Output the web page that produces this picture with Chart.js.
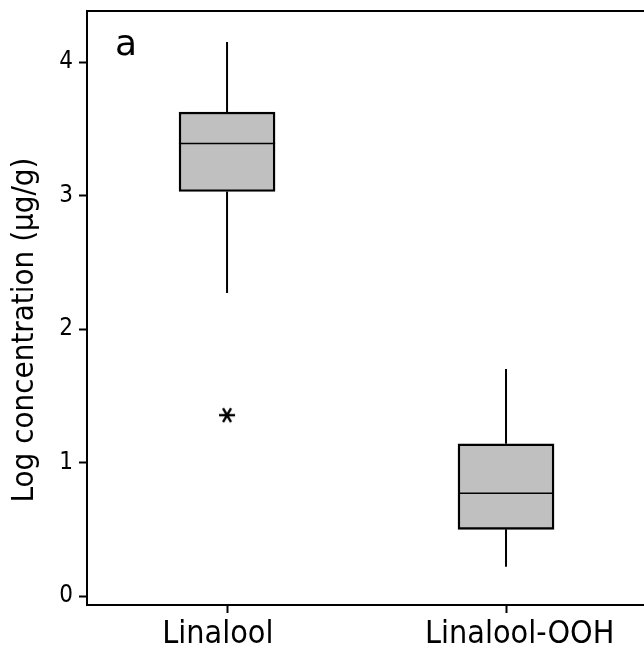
<!DOCTYPE html>
<html><head><meta charset="utf-8">
<script src="https://cdn.jsdelivr.net/npm/chart.js@4/dist/chart.umd.min.js"></script>
<style>html,body{margin:0;padding:0;background:#fff;overflow:hidden}</style>
</head><body>
<canvas id="c" width="644" height="647" style="display:block;width:644px;height:647px"></canvas>
<script>
// ---- data ----
const categories = ['Linalool', 'Linalool-OOH'];
const whiskerLow = [2.27, 0.22];
const q1 = [3.03, 0.50];
const median = [3.39, 0.77];
const q3 = [3.625, 1.14];
const whiskerHigh = [4.15, 1.70];
const outlierCategory = [1];      // 1-based category position
const outlierValues = [1.355];
const yTicks = [0, 1, 2, 3, 4];
const panelLabel = 'a';
const yTitle = 'Log concentration (μg/g)';

const FONT = "'DejaVu Sans Condensed', 'DejaVu Sans', sans-serif";

// asterisk marker
const star = document.createElement('canvas');
star.width = 20; star.height = 20;
(function () {
  const g = star.getContext('2d');
  g.strokeStyle = '#000'; g.lineWidth = 2.4; g.lineCap = 'butt';
  g.translate(10, 10);
  [0, 60, 120].forEach(a => {
    const r = a * Math.PI / 180;
    g.beginPath();
    g.moveTo(-8 * Math.cos(r), -8 * Math.sin(r));
    g.lineTo(8 * Math.cos(r), 8 * Math.sin(r));
    g.stroke();
  });
})();

const pos = categories.map((c, i) => i + 1);

function whiskerData(from, to) {
  const out = [];
  pos.forEach((p, i) => {
    out.push({ x: p, y: from[i] }, { x: p, y: to[i] }, { x: p, y: null });
  });
  return out;
}

const decor = {
  id: 'decor',
  afterDraw(chart) {
    const { ctx, chartArea: a } = chart;
    ctx.save();
    ctx.strokeStyle = '#000';
    ctx.lineWidth = 2;
    ctx.beginPath();
    ctx.moveTo(a.left - 1, a.top);
    ctx.lineTo(a.right, a.top);
    ctx.stroke();
    ctx.fillStyle = '#000';
    ctx.font = "36px 'DejaVu Sans', sans-serif";
    ctx.textAlign = 'left';
    ctx.textBaseline = 'alphabetic';
    ctx.fillText(panelLabel, a.left + 28, a.top + 44);
    ctx.translate(25, (a.top + a.bottom) / 2 + 22);
    ctx.rotate(-Math.PI / 2);
    ctx.font = '31px ' + FONT;
    ctx.textAlign = 'center';
    ctx.textBaseline = 'middle';
    ctx.fillText(yTitle, 0, 0);
    ctx.restore();
  }
};

const gridCommon = { drawOnChartArea: false, drawTicks: true, tickLength: 8, tickColor: '#000', tickWidth: 2, offset: false };
const borderCommon = { display: true, color: '#000', width: 2 };
const boxBorder = 2.4;

new Chart(document.getElementById('c'), {
  data: {
    datasets: [
      {
        type: 'bar', label: 'upper box',
        data: pos.map((p, i) => ({ x: p, y: [median[i], q3[i]] })),
        backgroundColor: '#c0c0c0', borderColor: '#000',
        borderWidth: { top: boxBorder, bottom: 1.1, left: boxBorder, right: boxBorder },
        borderSkipped: false, barThickness: 96, grouped: false
      },
      {
        type: 'bar', label: 'lower box',
        data: pos.map((p, i) => ({ x: p, y: [q1[i], median[i]] })),
        backgroundColor: '#c0c0c0', borderColor: '#000',
        borderWidth: { top: 1.1, bottom: boxBorder, left: boxBorder, right: boxBorder },
        borderSkipped: false, barThickness: 96, grouped: false
      },
      {
        type: 'line', label: 'upper whisker',
        data: whiskerData(q3, whiskerHigh),
        borderColor: '#000', borderWidth: 2, pointRadius: 0, spanGaps: false, fill: false
      },
      {
        type: 'line', label: 'lower whisker',
        data: whiskerData(q1, whiskerLow),
        borderColor: '#000', borderWidth: 2, pointRadius: 0, spanGaps: false, fill: false
      },
      {
        type: 'scatter', label: 'outliers',
        data: outlierValues.map((v, i) => ({ x: outlierCategory[i], y: v })),
        pointStyle: star, pointRadius: 8, showLine: false
      }
    ]
  },
  options: {
    responsive: false,
    animation: false,
    devicePixelRatio: 1,
    layout: { autoPadding: false, padding: { top: 11, right: 0, left: 0, bottom: 0 } },
    plugins: { legend: { display: false }, tooltip: { enabled: false } },
    scales: {
      x: {
        type: 'linear', min: 0.498, max: 2.4946, offset: false,
        afterBuildTicks: s => { s.ticks = pos.map(p => ({ value: p })); },
        afterFit: s => { s.height = 42; s.paddingLeft = 0; s.paddingRight = 0; },
        ticks: { color: '#000', font: { family: FONT, size: 32 }, padding: 2,
                 // the reference sets the first label slightly left and the second slightly right of its tick
                 callback: (v, i) => i === 0 ? categories[i] + '\u00a0\u00a0' : '\u00a0\u00a0\u00a0' + categories[i] },
        grid: gridCommon, border: borderCommon
      },
      y: {
        type: 'linear', min: -0.067, max: 4.382,
        afterBuildTicks: s => { s.ticks = yTicks.map(v => ({ value: v })); },
        afterFit: s => { s.width = 87; s.paddingTop = 0; s.paddingBottom = 0; },
        ticks: { color: '#000', font: { family: FONT, size: 24 }, padding: 6 },
        grid: gridCommon, border: borderCommon
      }
    }
  },
  plugins: [decor]
});
</script>
</body></html>
